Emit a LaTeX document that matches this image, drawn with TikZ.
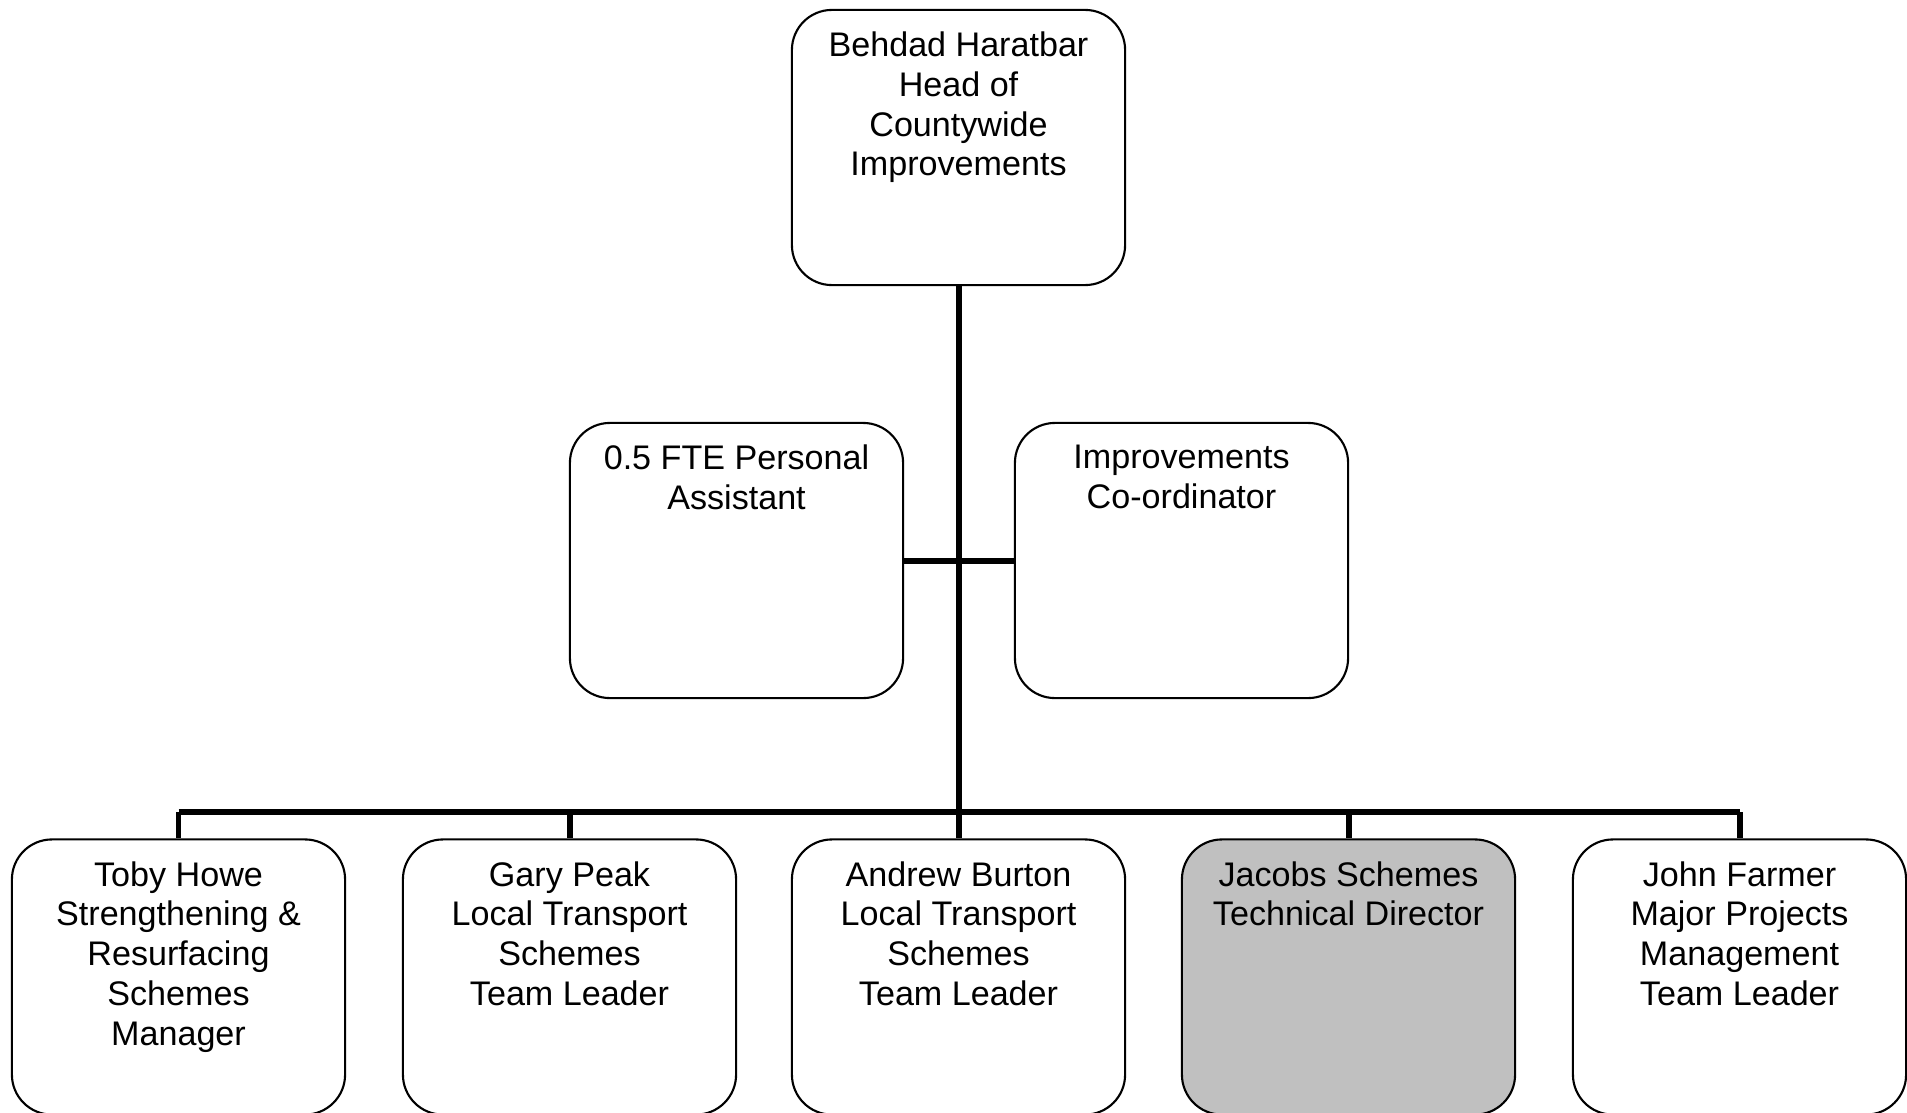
\documentclass[tikz,border=0pt]{standalone}
\usepackage{fontspec}
\setmainfont{Liberation Sans}
\usepackage{tikz}

\begin{document}
\begin{tikzpicture}[x=0.01cm,y=-0.01cm,
  unit/.style={draw,line width=0.6pt,rounded corners=0.4cm,inner sep=0.22cm,
    execute at begin node={\begin{minipage}[t][2.31cm][t]{2.89cm}\centering\fontsize{9.7}{11.3}\selectfont},
    execute at end node={\end{minipage}}},
  conn/.style={line width=1.7pt}]
  \useasboundingbox (0,0) rectangle (1907,1112);
  \coordinate (bus) at (958.5,812);
  % top and middle row
  \node[unit] (head)   at (958.5,147.5)  {Behdad Haratbar\\Head of\\Countywide\\Improvements};
  \node[unit] (pa)     at (736.5,560.5)  {0.5 FTE Personal\\Assistant};
  \node[unit] (coord)  at (1181.5,560.5) {Improvements\\Co-ordinator};
  % bottom row
  \node[unit] (toby)   at (178.5,977)  {Toby Howe\\Strengthening \&\\Resurfacing\\Schemes\\Manager};
  \node[unit] (gary)   at (569.5,977)  {Gary Peak\\Local Transport\\Schemes\\Team Leader};
  \node[unit] (andrew) at (958.5,977)  {Andrew Burton\\Local Transport\\Schemes\\Team Leader};
  \node[unit,fill={rgb,255:red,192;green,192;blue,192}] (jacobs) at (1348.5,977) {Jacobs Schemes\\Technical Director};
  \node[unit] (john)   at (1739.5,977) {John Farmer\\Major Projects\\Management\\Team Leader};
  % connectors
  \draw[conn] (head.south) -- (andrew.north);
  \draw[conn] (pa.east) -- (coord.west);
  \draw[conn] (toby.north |- bus) -- (john.north |- bus);
  \foreach \n in {toby,gary,jacobs,john}
    \draw[conn] (\n.north |- bus) -- (\n.north);
\end{tikzpicture}
\end{document}
